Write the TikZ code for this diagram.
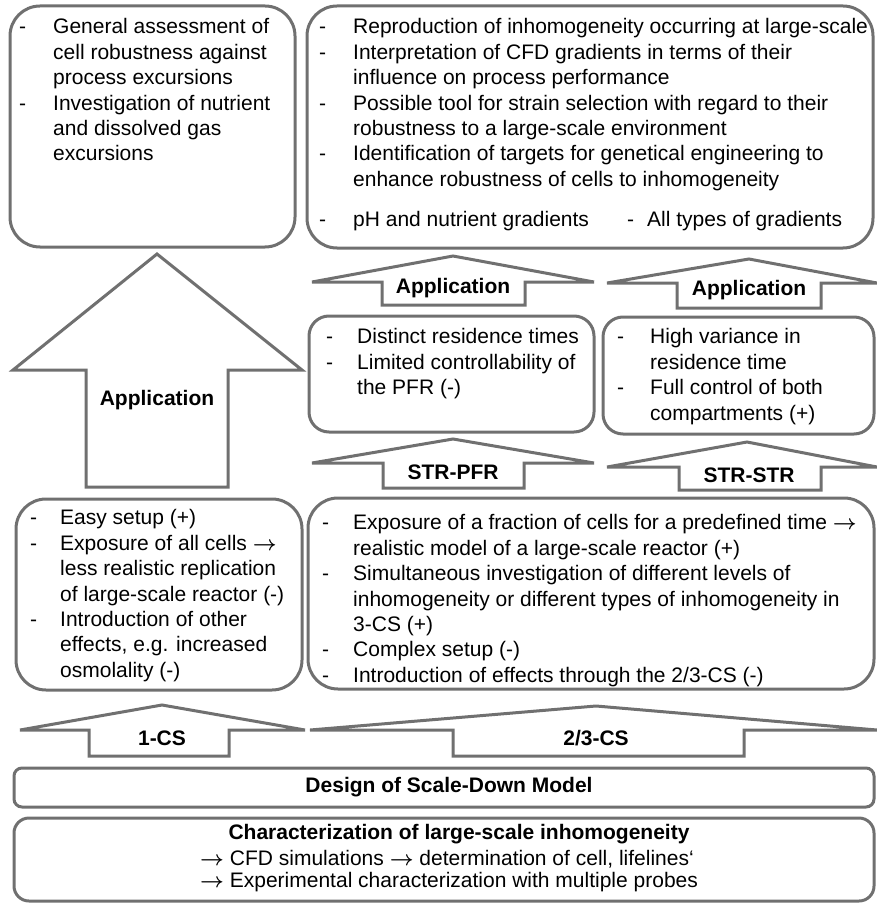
\documentclass[tikz,border=0pt]{standalone}
\usepackage{fontspec}
\setmainfont{Liberation Sans}
\newcommand{\ar}{{\boldmath$\rightarrow$}}
\definecolor{lg}{RGB}{112,112,112}
\newcommand{\lst}[2]{\begin{tabular}{@{}p{#1}@{}l@{}}#2\end{tabular}}
\begin{document}
\begin{tikzpicture}[x=1pt,y=-1pt,
  box/.style={draw=lg, line width=3pt, rounded corners=#1, inner sep=0pt},
  box/.default=30pt,
  blk/.style={draw=lg, line width=3pt, fill=white, line join=miter},
  lbl/.style={font=\bfseries\fontsize{21}{25.4}\selectfont, inner sep=0pt},
  txt/.style={font=\fontsize{21}{25.4}\selectfont, inner sep=0pt, anchor=north west, align=left}]
\useasboundingbox (0,0) rectangle (877,904);
% boxes
\node[box, minimum width=285pt, minimum height=241pt] (tl) at (152.5,126.5) {};
\node[box, minimum width=566pt, minimum height=242pt] (tr) at (590,127) {};
\node[box=20pt, minimum width=285pt, minimum height=116pt] (pfr) at (451.5,374) {};
\node[box=20pt, minimum width=271pt, minimum height=117pt] (str) at (738.5,375.5) {};
\node[box, minimum width=286pt, minimum height=191pt] (one) at (159,594.5) {};
\node[box, minimum width=566pt, minimum height=191pt] (two) at (591,593.5) {};
\node[box=8pt, minimum width=860pt, minimum height=39pt] (design) at (444,787.5) {};
\node[box=15pt, minimum width=860pt, minimum height=83pt] (char) at (444,859.5) {};
% block arrows
\draw[blk] (157,254) -- (302,370) -- (228,370) -- (228,487) -- (86,487) -- (86,370) -- (13,370) -- cycle;
\draw[blk] (453,256) -- (594,282) -- (525,282) -- (525,305) -- (382,305) -- (382,282) -- (312,282) -- cycle;
\draw[blk] (749,259) -- (877,283) -- (821,283) -- (821,308) -- (677,308) -- (677,283) -- (607,283) -- cycle;
\draw[blk] (453,439) -- (594,463) -- (524,463) -- (524,488) -- (383,488) -- (383,463) -- (312,463) -- cycle;
\draw[blk] (747,442) -- (877,467) -- (821,467) -- (821,490) -- (679,490) -- (679,467) -- (607,467) -- cycle;
\draw[blk] (162,705) -- (305,730) -- (229,730) -- (229,756) -- (89,756) -- (89,730) -- (20,730) -- cycle;
\draw[blk] (596,706) -- (877,730) -- (744,730) -- (744,756) -- (453,756) -- (453,730) -- (310,730) -- cycle;
% arrow labels
\node[lbl] (appbig) at (157,400) {Application};
\node[lbl] (app1) at (453,288) {Application};
\node[lbl] (app2) at (749,290) {Application};
\node[lbl] (lpfr) at (453,472) {STR-PFR};
\node[lbl] (lstr) at (749,475) {STR-STR};
\node[lbl] (l1cs) at (162,738) {1-CS};
\node[lbl] (l23cs) at (596,738) {2/3-CS};
% box texts
\node[txt] (ttl) at (19,16) {\lst{34pt}{-&General assessment of\\ &cell robustness against\\ &process excursions\\ -&Investigation of nutrient\\ &and dissolved gas\\ &excursions}};
\node[txt] (ttr) at (319,16) {\lst{34pt}{-&Reproduction of inhomogeneity occurring at large-scale\\ -&Interpretation of CFD gradients in terms of their\\ &influence on process performance\\ -&Possible tool for strain selection with regard to their\\ &robustness to a large-scale environment\\ -&Identification of targets for genetical engineering to\\ &enhance robustness of cells to inhomogeneity\\[15pt] -&\makebox[274pt][l]{pH and nutrient gradients}\makebox[20pt][l]{-}All types of gradients}};
\node[txt] (tpfr) at (326,326) {\lst{31pt}{-&Distinct residence times\\ -&Limited controllability of\\ &the PFR (-)}};
\node[txt] (tstr) at (617,326) {\lst{33pt}{-&High variance in\\ &residence time\\ -&Full control of both\\ &compartments (+)}};
\node[txt] (tone) at (30,507) {\lst{30pt}{-&Easy setup (+)\\ -&Exposure of all cells \ar\\ &less realistic replication\\ &of large-scale reactor (-)\\ -&Introduction of other\\ &effects, e.g. increased\\ &osmolality (-)}};
\node[txt] (ttwo) at (322,512) {\lst{31pt}{-&Exposure of a fraction of cells for a predefined time \ar\\ &realistic model of a large-scale reactor (+)\\ -&Simultaneous investigation of different levels of\\ &inhomogeneity or different types of inhomogeneity in\\ &3-CS (+)\\ -&Complex setup (-)\\ -&Introduction of effects through the 2/3-CS (-)}};
% bottom texts
\node[lbl] (tdesign) at (449,787) {Design of Scale-Down Model};
\node[lbl] (tchar) at (459,834) {Characterization of large-scale inhomogeneity};
\node[txt, anchor=west] (tcfd) at (200,859) {\ar{} CFD simulations \ar{} determination of cell, lifelines‘};
\node[txt, anchor=west] (texp) at (200,882) {\ar{} Experimental characterization with multiple probes};
\end{tikzpicture}
\end{document}
